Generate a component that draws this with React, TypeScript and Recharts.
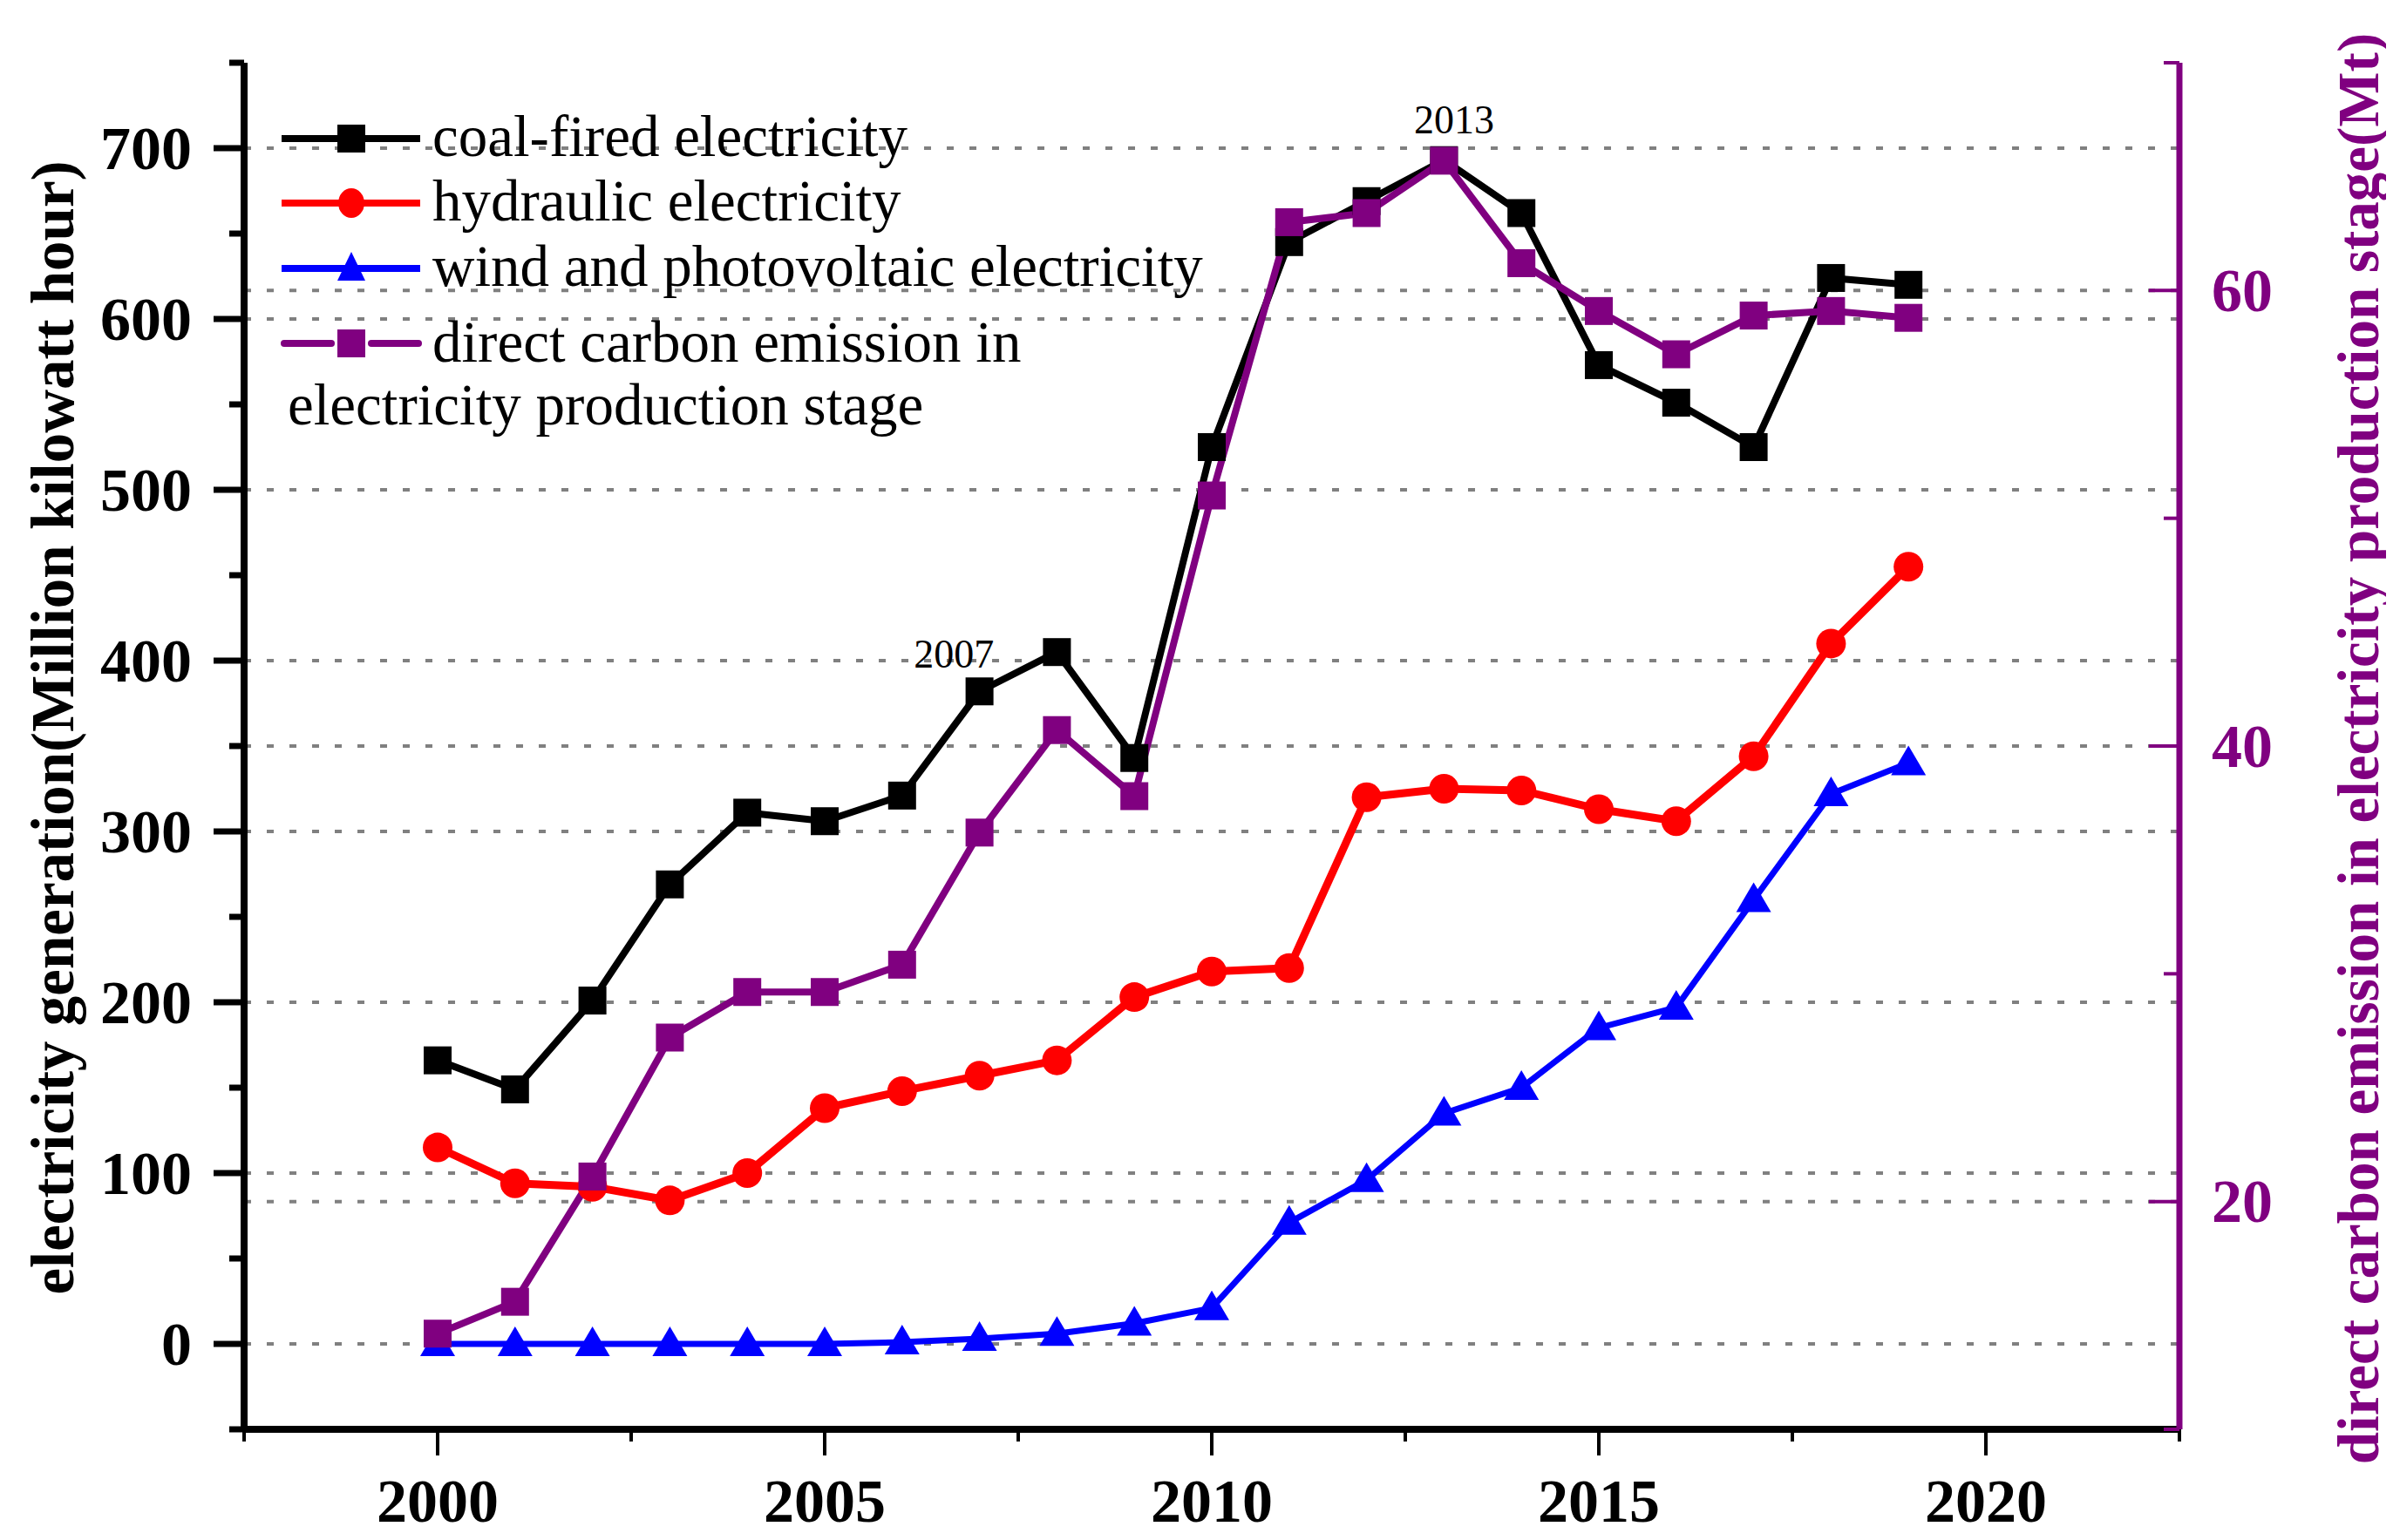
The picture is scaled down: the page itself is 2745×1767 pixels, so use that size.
import React from 'react';
import { LineChart, Line, XAxis, YAxis, CartesianGrid, ReferenceDot } from 'recharts';

const years = [2000, 2001, 2002, 2003, 2004, 2005, 2006, 2007, 2008, 2009, 2010, 2011, 2012, 2013, 2014, 2015, 2016, 2017, 2018, 2019];
const coalFired = [166, 149, 201, 269, 311, 306, 321, 382, 405, 343, 525, 645, 669, 693, 662, 573, 551, 525, 624, 620];
const hydraulic = [115, 94, 92, 84, 100, 138, 148, 157, 166, 203, 218, 220, 320, 325, 324, 313, 306, 344, 410, 455];
const windPV = [0, 0, 0, 0, 0, 0, 1, 3, 6, 12, 21, 71, 96, 135, 150, 185, 197, 260, 322, 340];
const carbonEmission = [14.2, 15.6, 21.1, 27.2, 29.2, 29.2, 30.4, 36.2, 40.7, 37.8, 51.0, 63.0, 63.4, 65.7, 61.2, 59.1, 57.2, 58.9, 59.1, 58.8];

const leftTicks = [-50, 0, 50, 100, 150, 200, 250, 300, 350, 400, 450, 500, 550, 600, 650, 700, 750];
const leftLabelTicks = [0, 100, 200, 300, 400, 500, 600, 700];
const rightTicks = [10, 20, 30, 40, 50, 60, 70];
const rightLabelTicks = [20, 40, 60];
const xTicks = [1997.5, 2000, 2002.5, 2005, 2007.5, 2010, 2012.5, 2015, 2017.5, 2020, 2022.5];
const xLabelTicks = [2000, 2005, 2010, 2015, 2020];

const seriesNames = ['coal-fired electricity', 'hydraulic electricity', 'wind and photovoltaic electricity', 'direct carbon emission in', 'electricity production stage'];
const leftTitle = 'electricity generation(Million kilowatt hour)';
const rightTitle = 'direct carbon emission in electricity production stage(Mt)';

const data = years.map((y, i) => ({
  year: y,
  coal: coalFired[i],
  hydro: hydraulic[i],
  wind: windPV[i],
  carbon: carbonEmission[i],
}));

const FONT = "'Liberation Serif', 'Times New Roman', serif";
const PURPLE = '#800080';
const W = 2737;
const H = 1759;

const SquareDot = (color: string) => (props: any) => {
  const { cx, cy, index } = props;
  if (cx == null || cy == null) return <g key={index} />;
  return <rect key={index} x={cx - 16} y={cy - 16} width={32} height={32} fill={color} />;
};
const CircleDot = (props: any) => {
  const { cx, cy, index } = props;
  if (cx == null || cy == null) return <g key={index} />;
  return <circle key={index} cx={cx} cy={cy} r={17} fill="#ff0000" />;
};
const TriangleDot = (props: any) => {
  const { cx, cy, index } = props;
  if (cx == null || cy == null) return <g key={index} />;
  return <polygon key={index} points={`${cx},${cy - 20} ${cx - 20},${cy + 14} ${cx + 20},${cy + 14}`} fill="#0000ff" />;
};

const LeftTick = (props: any) => {
  const { x, y, payload } = props;
  const v = payload.value;
  const major = leftLabelTicks.includes(v);
  return (
    <g>
      <line x1={x - (major ? 35 : 17)} x2={x} y1={y} y2={y} stroke="#000" strokeWidth={7} />
      {major && (
        <text x={x - 60} y={y} dy="0.34em" textAnchor="end" fontFamily={FONT} fontWeight="bold" fontSize={70} fill="#000">
          {v}
        </text>
      )}
    </g>
  );
};

const RightTick = (props: any) => {
  const { x, y, payload } = props;
  const v = payload.value;
  const major = rightLabelTicks.includes(v);
  return (
    <g>
      <line x1={x - (major ? 35 : 18)} x2={x} y1={y} y2={y} stroke={PURPLE} strokeWidth={4} />
      {major && (
        <text x={x + 37} y={y} dy="0.34em" textAnchor="start" fontFamily={FONT} fontWeight="bold" fontSize={70} fill={PURPLE}>
          {v}
        </text>
      )}
    </g>
  );
};

const BottomTick = (props: any) => {
  const { x, y, payload } = props;
  const v = payload.value;
  const major = xLabelTicks.includes(v);
  return (
    <g>
      <line x1={x} x2={x} y1={y} y2={y + (major ? 30 : 14)} stroke="#000" strokeWidth={4} />
      {major && (
        <text x={x} y={y + 106} textAnchor="middle" fontFamily={FONT} fontWeight="bold" fontSize={70} fill="#000">
          {v}
        </text>
      )}
    </g>
  );
};

const LeftTitle = (props: any) => {
  const vb = props.viewBox || { x: 0, y: 64, width: 272, height: 1568 };
  const cx = vb.x + 52;
  const cy = vb.y + vb.height / 2 - 21;
  return (
    <text x={cx} y={cy} transform={`rotate(-90 ${cx} ${cy})`} textAnchor="middle" dy="0.35em" fontFamily={FONT} fontWeight="bold" fontSize={69} fill="#000">
      {leftTitle}
    </text>
  );
};

const RightTitle = (props: any) => {
  const vb = props.viewBox || { x: 2492, y: 64, width: 245, height: 1568 };
  const cx = vb.x + 205;
  const cy = vb.y + vb.height / 2 + 3;
  return (
    <text x={cx} y={cy} transform={`rotate(-90 ${cx} ${cy})`} textAnchor="middle" dy="0.35em" fontFamily={FONT} fontWeight="bold" fontSize={67} fill={PURPLE}>
      {rightTitle}
    </text>
  );
};

const LegendOverlay = () => {
  const rows = [151, 225, 300, 386];
  const textX = 488;
  return (
    <svg width={1500} height={540} style={{ position: 'absolute', left: 0, top: 0, pointerEvents: 'none' }}>
      <g fontFamily={FONT} fontSize={67} fill="#000">
        <line x1={315} x2={474} y1={rows[0]} y2={rows[0]} stroke="#000" strokeWidth={8} />
        <rect x={379} y={rows[0] - 16} width={32} height={32} fill="#000" />
        <text x={textX} y={rows[0] + 20}>{seriesNames[0]}</text>

        <line x1={315} x2={474} y1={rows[1]} y2={rows[1]} stroke="#ff0000" strokeWidth={8} />
        <ellipse cx={395} cy={rows[1]} rx={15} ry={17} fill="#ff0000" />
        <text x={textX} y={rows[1] + 20}>{seriesNames[1]}</text>

        <line x1={315} x2={474} y1={rows[2]} y2={rows[2]} stroke="#0000ff" strokeWidth={8} />
        <polygon points={`395,${rows[2] - 19} 379,${rows[2] + 14} 411,${rows[2] + 14}`} fill="#0000ff" />
        <text x={textX} y={rows[2] + 20}>{seriesNames[2]}</text>

        <line x1={318} x2={372} y1={rows[3]} y2={rows[3]} stroke={PURPLE} strokeWidth={8} strokeLinecap="round" />
        <line x1={418} x2={472} y1={rows[3]} y2={rows[3]} stroke={PURPLE} strokeWidth={8} strokeLinecap="round" />
        <rect x={379} y={rows[3] - 16} width={32} height={32} fill={PURPLE} />
        <text x={textX} y={rows[3] + 21}>{seriesNames[3]}</text>
        <text x={322} y={479}>{seriesNames[4]}</text>
      </g>
    </svg>
  );
};

export default function App() {
  return (
    <div style={{ position: 'relative', width: W, height: H, background: '#fff' }}>
      <LineChart width={W} height={H} data={data} margin={{ top: 64, right: 0, bottom: 0, left: 0 }}>
        <CartesianGrid xAxisId="x" yAxisId="left" vertical={false} horizontalValues={leftLabelTicks} stroke="#808080" strokeWidth={4} strokeDasharray="8 18" />
        <CartesianGrid xAxisId="x" yAxisId="right" vertical={false} horizontalValues={rightLabelTicks} stroke="#808080" strokeWidth={4} strokeDasharray="8 18" />
        <XAxis
          xAxisId="x"
          dataKey="year"
          type="number"
          domain={[1997.5, 2022.5]}
          ticks={xTicks}
          interval={0}
          height={127}
          tickSize={0}
          tickMargin={0}
          tickLine={false}
          axisLine={{ stroke: '#000', strokeWidth: 8 }}
          tick={<BottomTick />}
          allowDataOverflow
        />
        <XAxis
          xAxisId="top"
          orientation="top"
          type="number"
          domain={[1997.5, 2022.5]}
          height={0}
          tick={false}
          tickLine={false}
          axisLine={{ stroke: '#000', strokeWidth: 4 }}
        />
        <YAxis
          yAxisId="left"
          type="number"
          domain={[-50, 750]}
          ticks={leftTicks}
          interval={0}
          width={272}
          tickSize={0}
          tickMargin={0}
          tickLine={false}
          axisLine={{ stroke: '#000', strokeWidth: 8 }}
          tick={<LeftTick />}
          label={{ content: LeftTitle }}
          allowDataOverflow
        />
        <YAxis
          yAxisId="right"
          orientation="right"
          type="number"
          domain={[10, 70]}
          ticks={rightTicks}
          interval={0}
          width={245}
          tickSize={0}
          tickMargin={0}
          tickLine={false}
          axisLine={{ stroke: PURPLE, strokeWidth: 7 }}
          tick={<RightTick />}
          label={{ content: RightTitle }}
          allowDataOverflow
        />
        <Line xAxisId="x" yAxisId="left" dataKey="wind" stroke="#0000ff" strokeWidth={7} dot={TriangleDot} activeDot={false} isAnimationActive={false} />
        <Line xAxisId="x" yAxisId="left" dataKey="hydro" stroke="#ff0000" strokeWidth={9} dot={CircleDot} activeDot={false} isAnimationActive={false} />
        <Line xAxisId="x" yAxisId="left" dataKey="coal" stroke="#000" strokeWidth={8} dot={SquareDot('#000')} activeDot={false} isAnimationActive={false} />
        <Line xAxisId="x" yAxisId="right" dataKey="carbon" stroke={PURPLE} strokeWidth={8} strokeLinecap="round" dot={SquareDot(PURPLE)} activeDot={false} isAnimationActive={false} />
        <ReferenceDot xAxisId="x" yAxisId="left" x={2006.67} y={404} r={0} fill="none" stroke="none"
          label={{ value: '2007', position: 'center', fontSize: 46, fill: '#000', fontFamily: FONT }} />
        <ReferenceDot xAxisId="x" yAxisId="left" x={2013.13} y={717} r={0} fill="none" stroke="none"
          label={{ value: '2013', position: 'center', fontSize: 46, fill: '#000', fontFamily: FONT }} />
      </LineChart>
      <LegendOverlay />
    </div>
  );
}
